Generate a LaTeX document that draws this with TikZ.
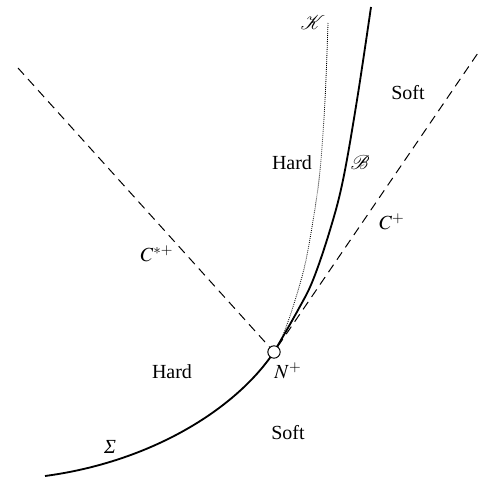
\documentclass[tikz,border=0pt]{standalone}
\usepackage{mathptmx}
\usepackage{mathrsfs}
\usepackage{fontspec}
\setmainfont{Liberation Serif}
\usetikzlibrary{positioning}

\begin{document}
\begin{tikzpicture}[
    x=0.6pt, y=-0.6pt,
    font=\fontsize{12}{14}\selectfont,
    region/.style={inner sep=0pt},
    point/.style={circle, draw, fill=white, line width=0.6pt, inner sep=0pt, minimum size=7.4pt},
    char/.style={dash pattern=on 5.4pt off 3.6pt, line width=0.6pt},
    front/.style={line width=1.1pt},
    kline/.style={dash pattern=on 0.5pt off 0.7pt, line width=0.5pt}
]
    \useasboundingbox (0,0) rectangle (481,477);

    % curves
    \coordinate (sigmaend) at (45,476);
    \coordinate (cstartop) at (18,68);
    \coordinate (cplustop) at (480,50);
    \draw[front] (sigmaend) .. controls (150,462) and (235,410) .. (274,352);
    \draw[front] plot[smooth, tension=0.6] coordinates {(274,352) (298,310) (313,280) (330,230) (343,180) (357,100) (371,7)};
    \draw[kline] plot[smooth] coordinates {(328,23) (325,100) (319,180) (306,260) (292,310) (280,343)};

    \node[point] (npl) at (274,352) {};
    \draw[char] (cstartop) -- (npl);
    \draw[char] (npl) -- (cplustop);

    % labels
    \node[region] (ktext) at (313,23) {$\mathscr{K}$};
    \node[region] (softup) at (408,93) {Soft};
    \node[region] (hardup) at (292,163) {Hard};
    \node[region] (btext) at (360,163) {$\mathscr{B}$};
    \node[region] (cplus) at (392,222) {$C^{+}$};
    \node[region] (cstar) at (157,254) {$C^{*+}$};
    \node[region] (ntext) at (288,371) {$N^{+}$};
    \node[region] (hardlow) at (172,372) {Hard};
    \node[region] (softlow) at (288,433) {Soft};
    \node[region] (sigma) at (110,447) {\itshape Σ};
\end{tikzpicture}
\end{document}
